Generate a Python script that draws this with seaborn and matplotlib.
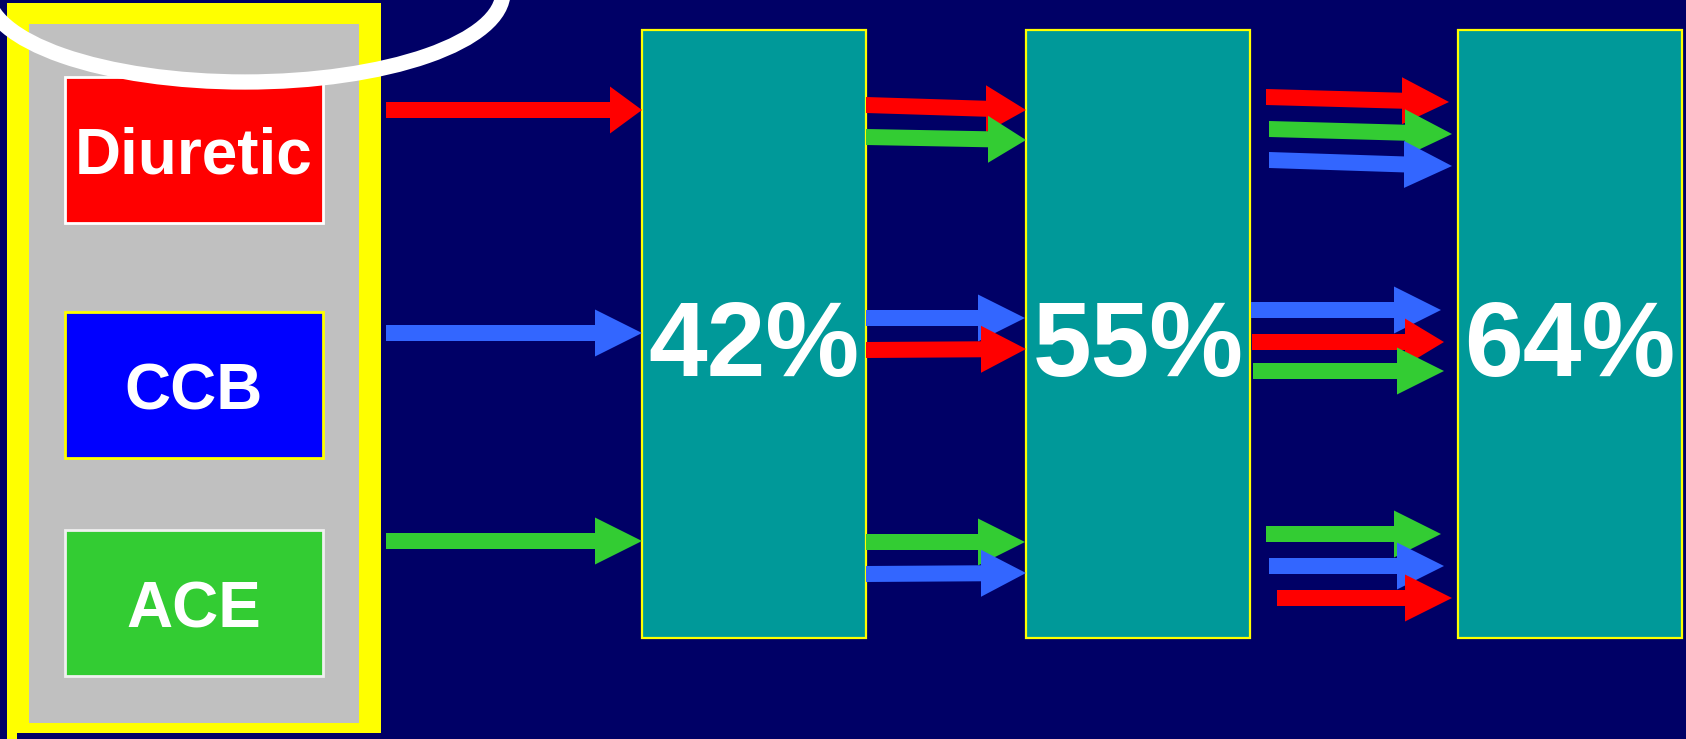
import seaborn as sns
import matplotlib.pyplot as plt
from matplotlib.patches import Rectangle, Polygon, Ellipse

# drug classes and their colours
drugs = ["Diuretic", "CCB", "ACE"]
box_colors = {"Diuretic": "#FF0000", "CCB": "#0000FF", "ACE": "#33CC33"}
box_edges = {"Diuretic": "#FFFFFF", "CCB": "#FFFF00", "ACE": "#F0F0F0"}
arrow_colors = {"Diuretic": "#FF0000", "CCB": "#3366FF", "ACE": "#33CC33"}

# BP control rate after each step
control_rates = [42, 55, 64]

# which drug each arrow stands for, step by step, top to bottom
step1_drugs = ["Diuretic", "CCB", "ACE"]
step2_drugs = ["Diuretic", "ACE", "CCB", "Diuretic", "ACE", "CCB"]
step3_drugs = ["Diuretic", "ACE", "CCB", "CCB", "Diuretic", "ACE",
               "ACE", "CCB", "Diuretic"]

# arrow layout in pixels: (x start, y start, x tip, y tip, x head base)
step1_geom = [(386, 110, 642, 110, 610), (386, 333, 642, 333, 595),
              (386, 541, 642, 541, 595)]
step2_geom = [(866, 105, 1026, 110, 986), (866, 137, 1026, 140, 988),
              (866, 318, 1025, 318, 978), (866, 350, 1026, 349, 981),
              (866, 542, 1025, 542, 978), (866, 574, 1026, 573, 981)]
step3_geom = [(1266, 97, 1449, 102, 1402), (1269, 129, 1452, 134, 1405),
              (1269, 160, 1452, 166, 1404), (1251, 310, 1441, 310, 1394),
              (1252, 342, 1444, 342, 1405), (1253, 371, 1444, 371, 1397),
              (1266, 534, 1441, 534, 1394), (1269, 566, 1444, 566, 1397),
              (1277, 598, 1452, 598, 1405)]

W, H = 1686, 739
BG = "#000066"
TEAL = "#009999"

sns.set_theme(style="white")
plt.rcParams['font.family'] = ['Liberation Sans', 'DejaVu Sans']

fig = plt.figure(figsize=(W / 100, H / 100), dpi=100, facecolor=BG)
ax = fig.add_axes([0, 0, 1, 1])
ax.set_facecolor(BG)
ax.set_xlim(0, W)
ax.set_ylim(H, 0)
ax.axis('off')


def draw_arrow(geom, color, z):
    x0, y0, xt, yt, xb = geom
    t, h = 16, 47
    yb = y0 + (yt - y0) * (xb - x0) / (xt - x0)
    pts = [(x0, y0 - t / 2), (xb, yb - t / 2), (xb, yb - h / 2), (xt, yt),
           (xb, yb + h / 2), (xb, yb + t / 2), (x0, y0 + t / 2)]
    ax.add_patch(Polygon(pts, closed=True, facecolor=color, edgecolor='none',
                         zorder=z))


# left panel with the drug boxes
ax.add_patch(Rectangle((7, 3), 374, 730, facecolor="#FFFF00", edgecolor='none', zorder=1))
ax.add_patch(Rectangle((7, 723), 10, 16, facecolor="#FFFF00", edgecolor='none', zorder=1))
ax.add_patch(Rectangle((29, 24), 330, 699, facecolor="#C0C0C0", edgecolor='none', zorder=2))

box_tops = [77, 312, 530]
baselines = [174, 409, 628]
for name, top, base in zip(drugs, box_tops, baselines):
    ax.add_patch(Rectangle((65, top), 258, 146, facecolor=box_colors[name],
                           edgecolor=box_edges[name], linewidth=2, zorder=3))
    ax.text(194, base, name, color='white', fontsize=46, fontweight='bold',
            ha='center', va='baseline', zorder=4)

# the three step boxes
step_left = [642, 1026, 1458]
for x, rate in zip(step_left, control_rates):
    ax.add_patch(Rectangle((x, 30), 224, 608, facecolor=TEAL,
                           edgecolor="#FFFF00", linewidth=1.6, zorder=2))
    ax.text(x + 112, 376, f"{rate}%", color='white', fontsize=76,
            fontweight='bold', ha='center', va='baseline', zorder=4)

# arrows
z = 5
for names, geoms in [(step1_drugs, step1_geom), (step2_drugs, step2_geom),
                     (step3_drugs, step3_geom)]:
    for name, g in zip(names, geoms):
        draw_arrow(g, arrow_colors[name], z)
        z += 0.01

# white ring at the top
ax.add_patch(Ellipse((245, -8), 516, 180, facecolor='none', edgecolor='white',
                     linewidth=11, zorder=8))

fig.savefig("out.png", dpi=100, facecolor=BG)
